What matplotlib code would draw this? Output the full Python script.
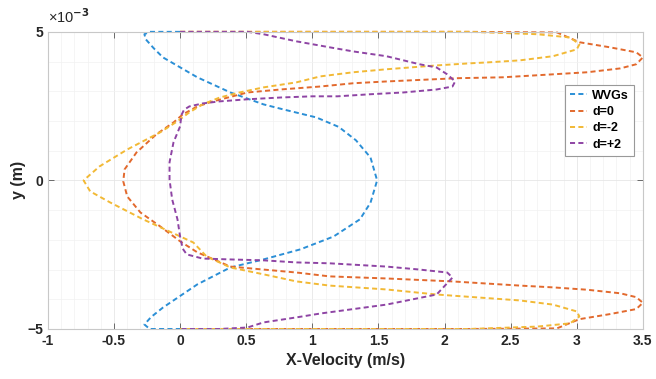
import matplotlib
matplotlib.use("Agg")
import matplotlib.pyplot as plt
from matplotlib.ticker import MultipleLocator

plt.rcParams["font.family"] = ["Liberation Sans", "DejaVu Sans"]
plt.rcParams["font.weight"] = "bold"

# velocity profiles: x-velocity (m/s) vs y (mm, shown as x10^-3 m)
wvgs_u = [0.0, -0.23, -0.27, -0.26, -0.2, -0.13, 0.13, 0.38, 0.63, 0.78, 1.03, 1.2, 1.33,
          1.44, 1.49, 1.44, 1.36, 1.16, 0.91, 0.63, 0.38, 0.13, -0.13, -0.22, -0.27, -0.23, 0.0]
wvgs_y = [5.0, 5.0, 4.92, 4.75, 4.45, 4.14, 3.47, 2.96, 2.56, 2.39, 2.12, 1.8, 1.35,
          0.77, 0.0, -0.75, -1.31, -1.89, -2.32, -2.66, -2.93, -3.5, -4.28, -4.6, -4.85, -5.0, -5.0]

d0_u = [0.0, 2.19, 2.85, 3.02, 3.25, 3.45, 3.50, 3.45, 3.33, 3.08, 2.82, 2.44, 2.1,
        1.56, 1.31, 1.06, 0.76, 0.51, 0.25, 0.13, 0.02, -0.05, -0.18, -0.33, -0.42,
        -0.43, -0.40, -0.30, -0.15, 0.0, 0.13, 0.38, 0.63, 0.88, 1.13, 1.56, 2.06,
        2.57, 2.82, 3.08, 3.33, 3.45, 3.50, 3.45, 3.25, 3.02, 2.85, 2.2, 0.0]
d0_y = [5.0, 5.0, 4.98, 4.65, 4.48, 4.31, 4.14, 3.91, 3.77, 3.64, 3.57, 3.47, 3.44,
        3.33, 3.27, 3.16, 3.06, 2.96, 2.66, 2.49, 2.22, 1.95, 1.55, 0.94, 0.37,
        -0.03, -0.54, -1.08, -1.55, -2.05, -2.42, -2.9, -3.0, -3.1, -3.23, -3.3, -3.4,
        -3.54, -3.6, -3.68, -3.8, -3.93, -4.12, -4.33, -4.5, -4.67, -4.98, -5.0, -5.0]

dm2_u = [0.0, 2.19, 2.70, 2.95, 3.02, 3.0, 2.82, 2.57, 2.32, 2.19, 1.94, 1.56, 1.31,
         1.06, 0.88, 0.63, 0.45, 0.30, 0.17, 0.07, -0.02, -0.08, -0.15, -0.40, -0.61,
         -0.73, -0.68, -0.53, -0.28, -0.08, 0.10, 0.20, 0.38, 0.63, 0.88, 1.13, 1.56,
         1.94, 2.57, 2.82, 3.0, 3.02, 2.95, 2.70, 2.19, 0.0]
dm2_y = [5.0, 5.0, 4.92, 4.81, 4.58, 4.41, 4.18, 4.04, 3.97, 3.94, 3.87, 3.74, 3.64,
         3.5, 3.3, 3.13, 2.96, 2.79, 2.56, 2.29, 1.99, 1.82, 1.62, 1.04, 0.47,
         0.0, -0.37, -0.74, -1.31, -1.72, -2.09, -2.56, -2.93, -3.16, -3.4, -3.54, -3.67,
         -3.84, -4.04, -4.18, -4.41, -4.58, -4.81, -4.92, -5.0, -5.0]

dp2_u = [0.0, 0.51, 0.63, 0.88, 1.13, 1.31, 1.56, 1.81, 1.94, 2.02, 2.08, 2.06, 1.94,
         1.69, 1.44, 1.19, 1.0, 0.76, 0.51, 0.30, 0.17, 0.07, 0.03, 0.01, 0.0, -0.05, -0.08,
         -0.08, -0.06, -0.02, 0.0, 0.01, 0.02, 0.05, 0.17, 0.38, 0.63, 0.88, 1.13, 1.56, 1.81,
         2.02, 2.06, 1.94, 1.56, 1.06, 0.88, 0.63, 0.51, 0.3, 0.0]
dp2_y = [5.0, 5.0, 4.92, 4.68, 4.48, 4.34, 4.18, 3.91, 3.8, 3.57, 3.33, 3.16, 3.06,
         2.96, 2.9, 2.83, 2.83, 2.79, 2.73, 2.66, 2.59, 2.49, 2.38, 2.2, 1.82, 1.28, 0.61,
         0.03, -0.64, -1.31, -1.89, -2.1, -2.3, -2.49, -2.63, -2.66, -2.69, -2.76, -2.79, -2.9, -3.0,
         -3.1, -3.27, -3.84, -4.18, -4.48, -4.61, -4.78, -4.95, -5.0, -5.0]

x_ticks = [-1, -0.5, 0, 0.5, 1, 1.5, 2, 2.5, 3, 3.5]
x_tick_labels = ["-1", "-0.5", "0", "0.5", "1", "1.5", "2", "2.5", "3", "3.5"]
y_ticks = [-5, 0, 5]


def main():
    fig = plt.figure(figsize=(6.56, 3.79), dpi=100)
    ax = fig.add_axes([0.073, 0.132, 0.907, 0.784])

    dash = (0, (2.6, 1.7))
    series = [
        (wvgs_u, wvgs_y, "#2b8fd6", "WVGs"),
        (d0_u, d0_y, "#e2692d", "d=0"),
        (dm2_u, dm2_y, "#f2b935", "d=-2"),
        (dp2_u, dp2_y, "#8e44a4", "d=+2"),
    ]
    for u, y, color, name in series:
        ax.plot(u, y, color=color, lw=1.4, ls=dash, label=name, clip_on=False)

    ax.set_xlim(-1, 3.5)
    ax.set_ylim(-5, 5)
    ax.set_xticks(x_ticks)
    ax.set_xticklabels(x_tick_labels)
    ax.set_yticks(y_ticks)
    ax.xaxis.set_minor_locator(MultipleLocator(0.1))
    ax.yaxis.set_minor_locator(MultipleLocator(1))
    ax.tick_params(which="both", direction="in", top=True, right=True,
                   labelsize=10, colors="#262626")
    ax.tick_params(which="major", length=4, width=0.6, color="#555555")
    ax.tick_params(which="minor", length=0)
    for lbl in ax.get_xticklabels() + ax.get_yticklabels():
        lbl.set_fontweight("bold")
    ax.grid(True, which="major", color="#e6e6e6", lw=0.6)
    ax.grid(True, which="minor", color="#f2f2f2", lw=0.5)
    ax.set_axisbelow(True)
    for sp in ax.spines.values():
        sp.set_color("#c8c8c8")
        sp.set_linewidth(0.8)

    ax.set_xlabel("X-Velocity (m/s)", fontsize=11.5, fontweight="bold",
                  color="#262626", labelpad=4)
    ax.set_ylabel("y (m)", fontsize=11.5, fontweight="bold", color="#262626",
                  labelpad=1)
    ax.text(0.0, 1.02, "\u00d710$^{-3}$", transform=ax.transAxes, fontsize=10.5,
            fontweight="normal", color="#262626", ha="left", va="bottom")

    leg = ax.legend(loc="upper left", bbox_to_anchor=(0.869, 0.822), fontsize=9,
                    handlelength=1.4, handletextpad=0.4, borderpad=0.4,
                    labelspacing=0.35, fancybox=False, framealpha=1,
                    borderaxespad=0)
    leg.get_frame().set_edgecolor("#999999")
    leg.get_frame().set_linewidth(0.8)
    for t in leg.get_texts():
        t.set_fontweight("bold")

    fig.savefig("out.png", dpi=100)


if __name__ == "__main__":
    main()
